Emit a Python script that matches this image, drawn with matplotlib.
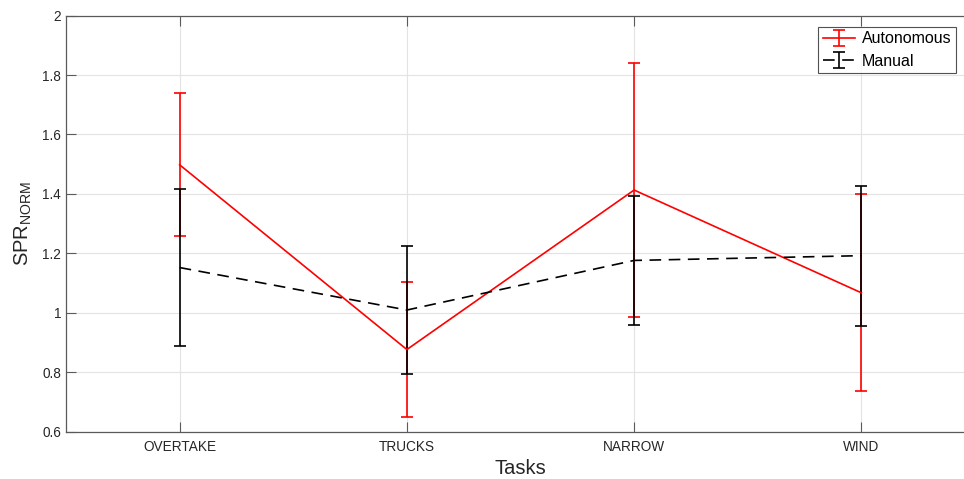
import matplotlib
matplotlib.use("Agg")
import numpy as np
from matplotlib import pyplot as plt

plt.rcParams['font.family'] = ['Liberation Sans', 'DejaVu Sans']
plt.rcParams['mathtext.fontset'] = 'custom'
plt.rcParams['mathtext.rm'] = 'Liberation Sans'

tasks = ["OVERTAKE", "TRUCKS", "NARROW", "WIND"]

# mean and spread per task
auto_mean = [1.498, 0.876, 1.413, 1.067]
auto_err = [0.241, 0.227, 0.428, 0.331]
manual_mean = [1.152, 1.009, 1.176, 1.192]
manual_err = [0.265, 0.217, 0.216, 0.236]

x = np.arange(1, len(tasks) + 1)

fig = plt.figure(figsize=(9.64, 4.79), dpi=100)
# the axes run a little past the right edge of the canvas
ax = fig.add_axes([66 / 964, 47.5 / 479, 909 / 964, 415.8 / 479])

ax.errorbar(x, auto_mean, yerr=auto_err, color='#ff0000', lw=1.2,
            elinewidth=1.2, capsize=4, capthick=1.2, label='Autonomous')
ax.errorbar(x, manual_mean, yerr=manual_err, color='black', lw=1.2,
            ls=(0, (7, 4.5)), elinewidth=1.2, capsize=4, capthick=1.2,
            label='Manual')

ax.set_xlim(0.5, 4.5)
ax.set_ylim(0.6, 2.0)
ax.set_xticks(x)
ax.set_xticklabels(tasks)
ax.set_yticks(np.arange(0.6, 2.01, 0.2))
ax.set_yticklabels(["0.6", "0.8", "1", "1.2", "1.4", "1.6", "1.8", "2"])

ax.grid(True, color='#e3e3e3', lw=0.8)
ax.set_axisbelow(True)
for spine in ax.spines.values():
    spine.set_color('#5a5a5a')
    spine.set_linewidth(0.9)
ax.spines['right'].set_visible(False)
ax.tick_params(direction='in', length=7, width=0.8, color='#5a5a5a',
               labelcolor='#262626', labelsize=9.8, top=True, right=False)
ax.tick_params(axis='x', pad=6)

ax.set_xlabel('Tasks', fontsize=14.5, color='#262626', labelpad=4)
ax.set_ylabel(r'SPR$_{\mathrm{NORM}}$', fontsize=14.5, color='#262626',
              labelpad=6)

leg = ax.legend(loc='upper left', bbox_to_anchor=((818 - 66) / 909, 1 - 11 / 415.8),
                fontsize=11.5, frameon=True, fancybox=False, borderpad=0.3,
                handlelength=2.0, handletextpad=0.45, labelspacing=0.45,
                borderaxespad=0)
leg.get_frame().set_edgecolor('#262626')
leg.get_frame().set_linewidth(0.8)

plt.savefig('out.png', dpi=100)
